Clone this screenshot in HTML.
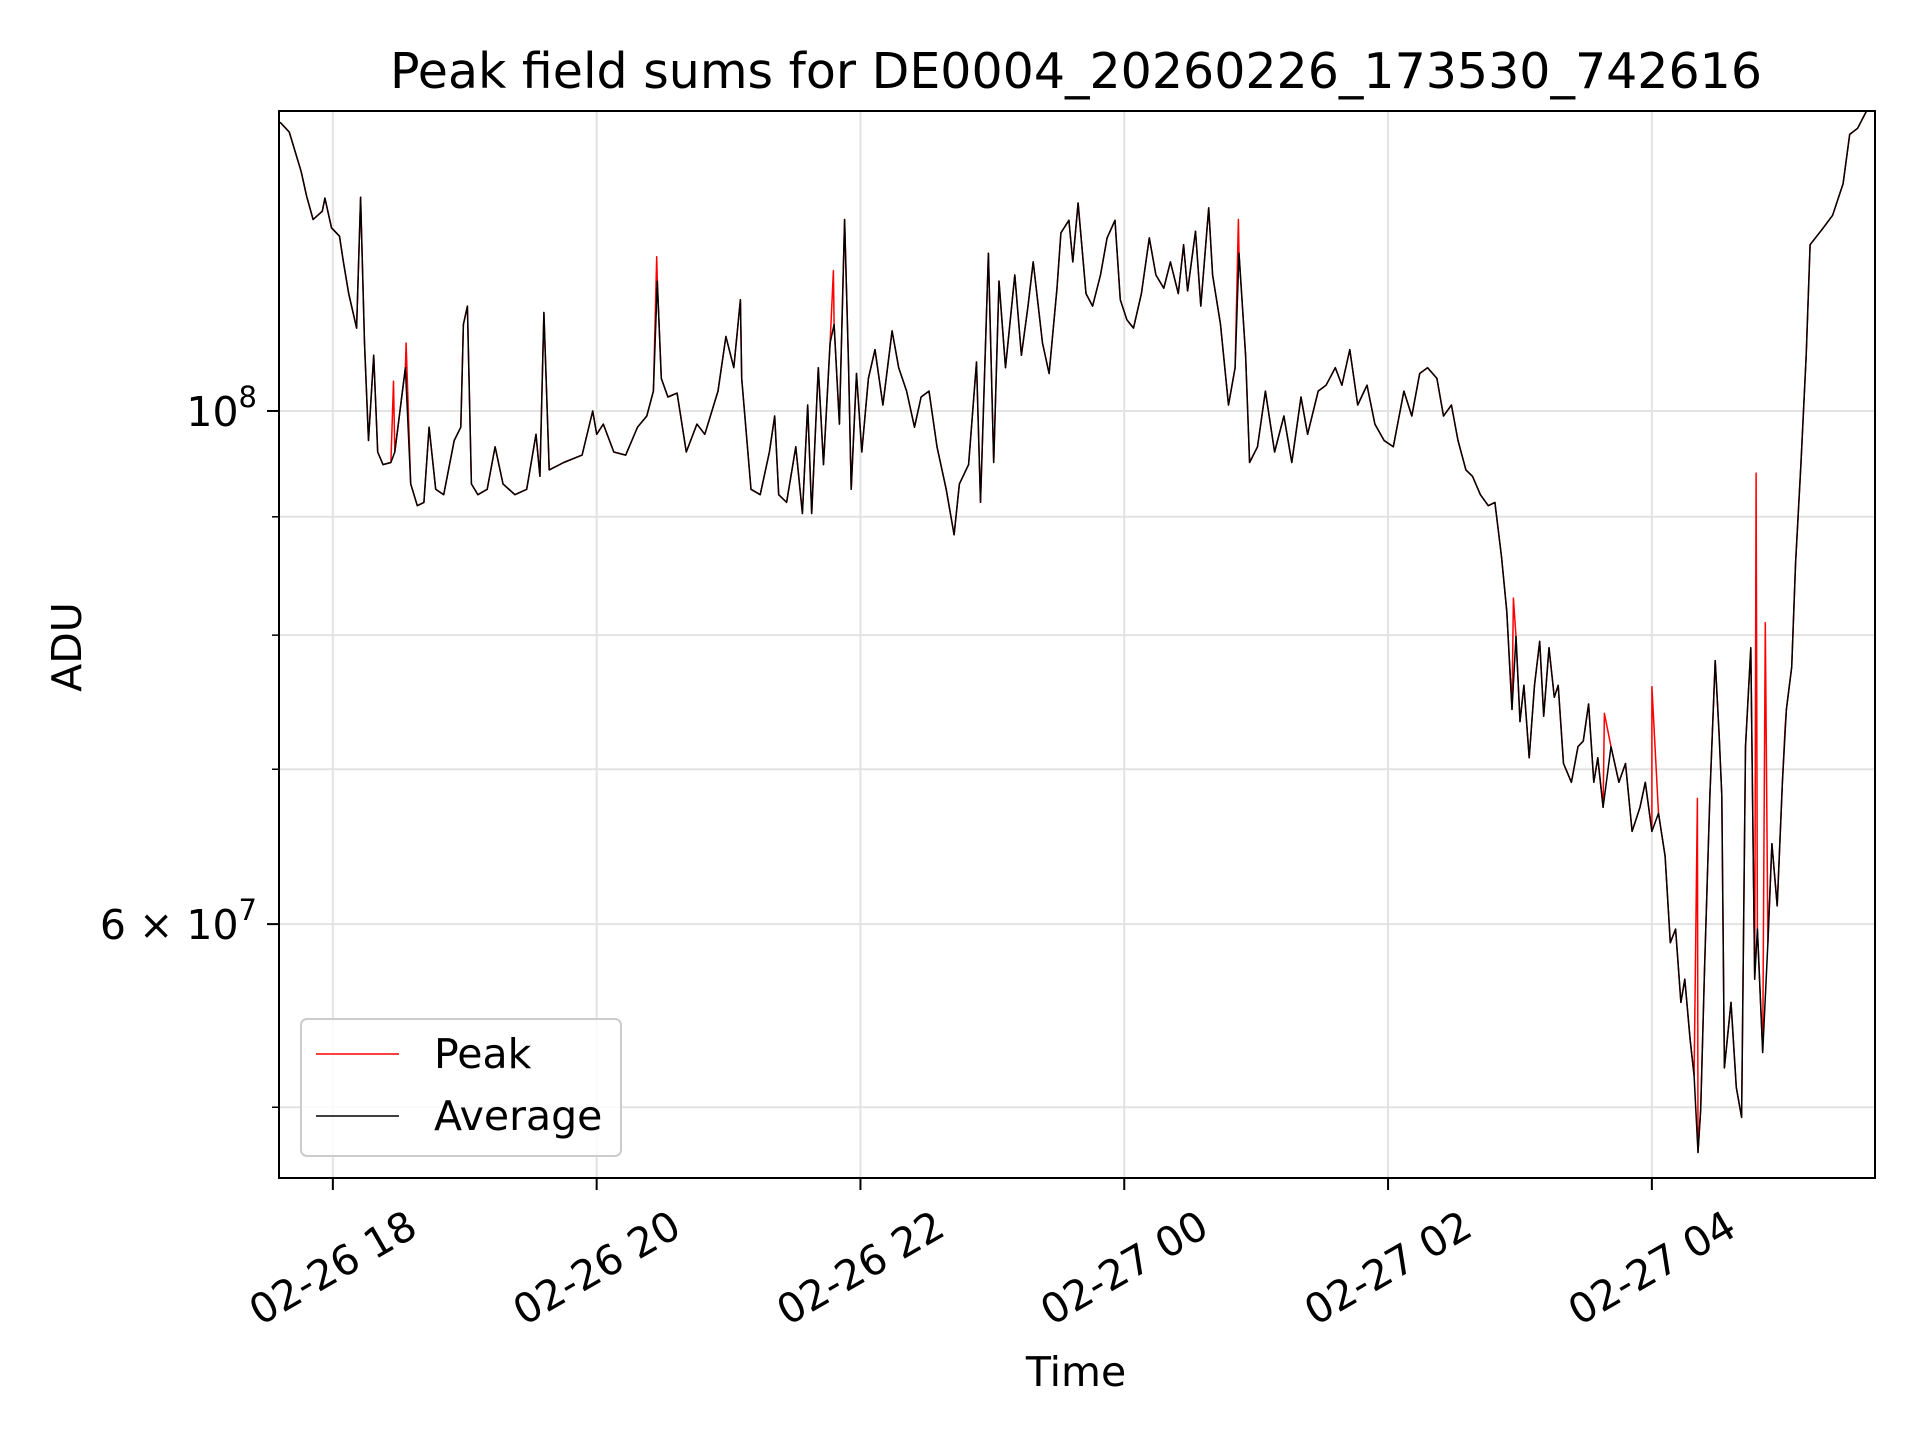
<!DOCTYPE html>
<html><head><meta charset="utf-8"><style>
html,body{margin:0;padding:0;background:#fff;}
svg{display:block;font-family:"DejaVu Sans","Liberation Sans",sans-serif;}
</style></head><body>
<svg id="chart" width="1920" height="1440" viewBox="0 0 1920 1440" xmlns="http://www.w3.org/2000/svg">
<rect width="1920" height="1440" fill="#fff"/>
<g id="grid"></g>
<g id="series"></g>
<rect x="279" y="111" width="1596" height="1067" fill="none" stroke="#000" stroke-width="2"/>
<g id="ticks"></g>
<text x="1076" y="88" font-size="49" text-anchor="middle">Peak field sums for DE0004_20260226_173530_742616</text>
<text x="1076" y="1386" font-size="41" text-anchor="middle">Time</text>
<text x="0" y="0" font-size="41" text-anchor="middle" transform="translate(81,647) rotate(-90)">ADU</text>
<g>
<rect x="301" y="1019" width="320" height="137" rx="6" fill="#fff" fill-opacity="0.8" stroke="#ccc" stroke-width="2"/>
<line x1="316" y1="1054" x2="399" y2="1054" stroke="#f00" stroke-width="1.5"/>
<text x="434" y="1068" font-size="41">Peak</text>
<line x1="316" y1="1116" x2="399" y2="1116" stroke="#000" stroke-width="1.5"/>
<text x="434" y="1130" font-size="41">Average</text>
</g>
</svg>
<script>
// time in hours since 02-26 00:00; values in units of 1e7 ADU
const avgTimes=[17.60,17.67,17.76,17.80,17.85,17.92,17.94,17.99,18.05,18.08,18.12,18.18,18.21,18.24,18.27,18.31,18.34,18.38,18.44,18.47,18.55,18.59,18.64,18.69,18.73,18.78,18.84,18.92,18.97,18.99,19.02,19.05,19.10,19.17,19.23,19.29,19.38,19.47,19.54,19.57,19.60,19.64,19.75,19.89,19.97,20.0,20.05,20.13,20.22,20.31,20.38,20.43,20.46,20.49,20.54,20.61,20.68,20.76,20.82,20.92,20.98,21.04,21.09,21.10,21.17,21.24,21.31,21.35,21.38,21.44,21.51,21.56,21.60,21.63,21.68,21.72,21.77,21.80,21.84,21.88,21.91,21.93,21.97,22.01,22.06,22.11,22.17,22.24,22.29,22.35,22.41,22.46,22.52,22.58,22.65,22.71,22.75,22.82,22.88,22.91,22.97,23.01,23.05,23.10,23.17,23.22,23.27,23.31,23.38,23.43,23.49,23.52,23.58,23.61,23.65,23.71,23.76,23.82,23.87,23.93,23.97,24.02,24.07,24.13,24.19,24.24,24.30,24.35,24.41,24.45,24.48,24.54,24.58,24.64,24.67,24.73,24.79,24.84,24.87,24.92,24.95,25.01,25.07,25.14,25.21,25.27,25.34,25.39,25.47,25.53,25.60,25.65,25.71,25.77,25.84,25.90,25.97,26.04,26.12,26.18,26.24,26.30,26.37,26.42,26.48,26.53,26.59,26.64,26.70,26.76,26.81,26.86,26.90,26.94,26.97,27.00,27.03,27.07,27.11,27.15,27.18,27.22,27.26,27.29,27.33,27.39,27.44,27.48,27.52,27.56,27.59,27.63,27.69,27.75,27.80,27.85,27.91,27.95,28.00,28.05,28.10,28.14,28.18,28.22,28.25,28.29,28.32,28.35,28.37,28.40,28.44,28.48,28.51,28.53,28.55,28.60,28.64,28.68,28.71,28.75,28.78,28.80,28.84,28.88,28.91,28.95,28.99,29.02,29.06,29.09,29.13,29.17,29.20,29.24,29.30,29.37,29.45,29.50,29.56,29.63,29.65];
const avgValues=[13.33,13.2,12.69,12.39,12.1,12.2,12.36,12.0,11.9,11.6,11.24,10.86,12.37,10.7,9.71,10.57,9.6,9.48,9.5,9.6,10.44,9.3,9.1,9.13,9.84,9.25,9.2,9.71,9.84,10.9,11.1,9.3,9.2,9.25,9.65,9.3,9.2,9.25,9.77,9.37,11.03,9.43,9.5,9.57,10.0,9.77,9.87,9.6,9.57,9.84,9.95,10.2,11.38,10.33,10.14,10.18,9.6,9.87,9.77,10.2,10.77,10.44,11.17,10.33,9.25,9.2,9.6,9.95,9.2,9.13,9.65,9.03,10.06,9.03,10.44,9.48,10.7,10.9,9.87,12.1,10.44,9.25,10.38,9.6,10.33,10.63,10.06,10.83,10.44,10.2,9.84,10.14,10.2,9.65,9.25,8.84,9.3,9.48,10.5,9.13,11.7,9.5,11.38,10.44,11.45,10.57,11.1,11.6,10.7,10.38,11.3,11.94,12.09,11.6,12.3,11.24,11.1,11.45,11.88,12.09,11.17,10.95,10.86,11.24,11.88,11.45,11.3,11.6,11.24,11.8,11.27,11.96,11.1,12.24,11.45,10.9,10.06,10.44,11.7,10.57,9.5,9.65,10.2,9.6,9.95,9.5,10.14,9.77,10.2,10.26,10.44,10.26,10.63,10.06,10.26,9.87,9.71,9.65,10.2,9.95,10.38,10.44,10.33,9.95,10.06,9.71,9.43,9.37,9.2,9.1,9.13,8.65,8.19,7.43,7.99,7.34,7.61,7.08,7.61,7.95,7.38,7.9,7.52,7.61,7.04,6.91,7.16,7.2,7.47,6.91,7.08,6.74,7.16,6.91,7.04,6.58,6.74,6.91,6.58,6.70,6.42,5.89,5.97,5.55,5.68,5.35,5.16,4.78,4.99,5.75,6.82,7.80,7.25,6.82,5.2,5.55,5.10,4.95,7.16,7.9,5.68,5.97,5.28,5.89,6.50,6.11,6.91,7.43,7.75,8.6,9.48,10.57,11.8,11.88,12.0,12.15,12.54,13.17,13.25,13.49,13.5];
// extra spikes present only in Peak series
const spikeTimes=[18.46,18.555,20.455,21.795,24.865,26.95,27.64,28.00,28.345,28.79,28.86,29.01];
const spikeValues=[10.3,10.7,11.66,11.5,12.1,8.3,7.4,7.6,6.8,9.4,8.1,7.3];
const xTickHours=[18,20,22,24,26,28];
const xTickLabels=["02-26 18","02-26 20","02-26 22","02-27 00","02-27 02","02-27 04"];
const yGridValues=[5,6,7,8,9,10];

const NS="http://www.w3.org/2000/svg";
const L=279,R=1875,T=111,B=1178;
const tMin=17.5917,tMax=29.6917;
const vTop=13.48,vBot=4.66;
function xs(t){return L+(t-tMin)/(tMax-tMin)*(R-L);}
function ys(v){return T+(Math.log10(vTop)-Math.log10(v))/(Math.log10(vTop)-Math.log10(vBot))*(B-T);}
function mk(tag,attrs,parent){const e=document.createElementNS(NS,tag);for(const k in attrs)e.setAttribute(k,attrs[k]);parent.appendChild(e);return e;}
const grid=document.getElementById('grid'),ticks=document.getElementById('ticks'),series=document.getElementById('series');

xTickHours.forEach((h,i)=>{
  const x=xs(h);
  const g=mk('line',{x1:x,x2:x,y1:T,y2:B,stroke:'#e3e3e3','stroke-width':2},grid);
  
  
  const tk=mk('line',{x1:x,x2:x,y1:B,y2:B+12,stroke:'#000','stroke-width':2},ticks);
  
  
  const tx=mk('text',{x:0,y:0,'font-size':41,'text-anchor':'middle','dominant-baseline':'central',transform:`translate(${x},1268) rotate(-30)`},ticks);
  tx.textContent=xTickLabels[i];
  
  
});
yGridValues.forEach(v=>{
  const y=ys(v);
  const g=mk('line',{x1:L,x2:R,y1:y,y2:y,stroke:'#e3e3e3','stroke-width':2},grid);
  
  
  const major=(v===10||v===6);
  const tk=mk('line',{x1:L-(major?12:7),x2:L,y1:y,y2:y,stroke:'#000','stroke-width':major?2:1.5},ticks);
  
  
});
let t1=mk('text',{x:257,y:ys(10)+15,'font-size':41,'text-anchor':'end'},ticks);
t1.innerHTML='10<tspan dy="-19" font-size="29">8</tspan>';


let t2=mk('text',{x:257,y:ys(6)+15,'font-size':41,'text-anchor':'end'},ticks);
t2.innerHTML='6 × 10<tspan dy="-19" font-size="29">7</tspan>';



const pts=avgTimes.map((t,i)=>[t,avgValues[i]]);
spikeTimes.forEach((t,i)=>pts.push([t,spikeValues[i]]));
pts.sort((a,b)=>a[0]-b[0]);
function path(arr){return arr.map((p,i)=>(i?'L':'M')+xs(p[0]).toFixed(1)+','+ys(p[1]).toFixed(1)).join('');}
const clip=mk('clipPath',{id:'pc'},series);mk('rect',{x:L,y:T,width:R-L,height:B-T},clip);
const peak=mk('path',{d:path(pts),fill:'none',stroke:'#f00','stroke-width':1.5,'clip-path':'url(#pc)','stroke-linejoin':'round'},series);


const avg=mk('path',{d:path(avgTimes.map((t,i)=>[t,avgValues[i]])),fill:'none',stroke:'#000','stroke-width':1.5,'clip-path':'url(#pc)','stroke-linejoin':'round'},series);


</script>
</body></html>
